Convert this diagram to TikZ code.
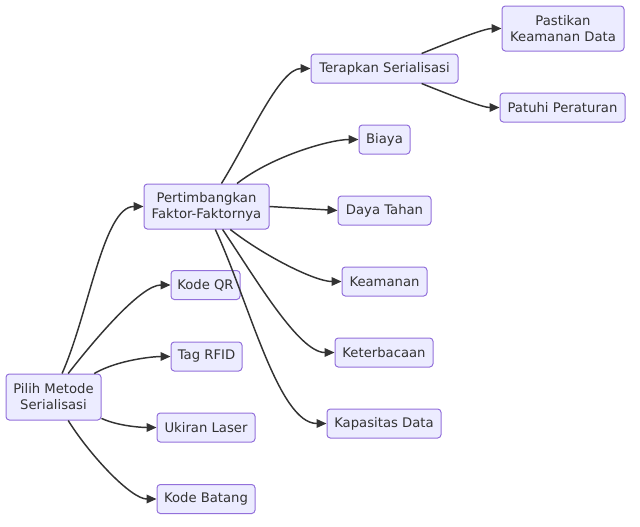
\documentclass[tikz,border=0pt]{standalone}
\usepackage{fontspec}
\setmainfont{DejaVu Sans}
\usetikzlibrary{arrows.meta}
\definecolor{boxfill}{HTML}{ECECFF}
\definecolor{boxline}{HTML}{9370DB}
\definecolor{ink}{HTML}{333333}
\begin{document}
\begin{tikzpicture}[x=0.75pt,y=-0.75pt,
    box/.style={draw=boxline,fill=boxfill,line width=0.75pt,rounded corners=2.5pt,
      text=ink,align=center,inner sep=0pt,font=\fontsize{9.9}{12}\selectfont},
    link/.style={draw=ink,line width=1.1pt,-{Triangle[length=7.5pt,width=6.5pt]},
      out looseness=0.9,in looseness=0.55}]
      \useasboundingbox (0,0) rectangle (640,526);
      \node (pilih) [box,minimum width=71.25pt,minimum height=34.5pt] at (53.5,397) {Pilih Metode\\Serialisasi};
      \node (pert) [box,minimum width=93.75pt,minimum height=33.75pt] at (206.5,206.5) {Pertimbangkan\\Faktor-Faktornya};
      \node (qr) [box,minimum width=51.75pt,minimum height=21.75pt] at (205.5,285) {Kode QR};
      \node (rfid) [box,minimum width=53.25pt,minimum height=21.75pt] at (206.5,356.5) {Tag RFID};
      \node (laser) [box,minimum width=73.5pt,minimum height=21.75pt] at (206,427.5) {Ukiran Laser};
      \node (batang) [box,minimum width=73.5pt,minimum height=21.75pt] at (206,499) {Kode Batang};
      \node (terap) [box,minimum width=110.25pt,minimum height=21.75pt] at (384.5,68.5) {Terapkan Serialisasi};
      \node (biaya) [box,minimum width=38.25pt,minimum height=21.75pt] at (384.5,139.5) {Biaya};
      \node (daya) [box,minimum width=69.75pt,minimum height=21.75pt] at (384.5,210.5) {Daya Tahan};
      \node (aman) [box,minimum width=63.75pt,minimum height=21.75pt] at (384.5,281.5) {Keamanan};
      \node (baca) [box,minimum width=73.5pt,minimum height=21.75pt] at (384,352.5) {Keterbacaan};
      \node (kapas) [box,minimum width=85.5pt,minimum height=21.75pt] at (384,423.5) {Kapasitas Data};
      \node (pasti) [box,minimum width=91.5pt,minimum height=33.75pt] at (563,28.5) {Pastikan\\Keamanan Data};
      \node (patuh) [box,minimum width=93.75pt,minimum height=21.75pt] at (562.5,107.5) {Patuhi Peraturan};
      \draw [link] (pilih.70) to[out=66,in=180] (pert.west);
      \draw [link] (pilih.58) to[out=52,in=180] (qr.west);
      \draw [link] (pilih.30) to[out=30,in=180] (rfid.west);
      \draw [link] (pilih.-24) to[out=-25,in=180] (laser.west);
      \draw [link] (pilih.-58) to[out=-58,in=180] (batang.west);
      \draw [link] (pert.57) to[out=58,in=180] (terap.west);
      \draw [link] (pert.37) to[out=38,in=180] (biaya.west);
      \draw [link] (pert.east) -- (daya.west);
      \draw [link] (pert.-44) to[out=-38,in=180] (aman.west);
      \draw [link] (pert.-55) to[out=-56,in=180] (baca.west);
      \draw [link] (pert.-69) to[out=-65,in=180] (kapas.west);
      \draw [link] (terap.22) to[out=22,in=180] (pasti.west);
      \draw [link] (terap.-22) to[out=-22,in=180] (patuh.west);
\end{tikzpicture}
\end{document}
